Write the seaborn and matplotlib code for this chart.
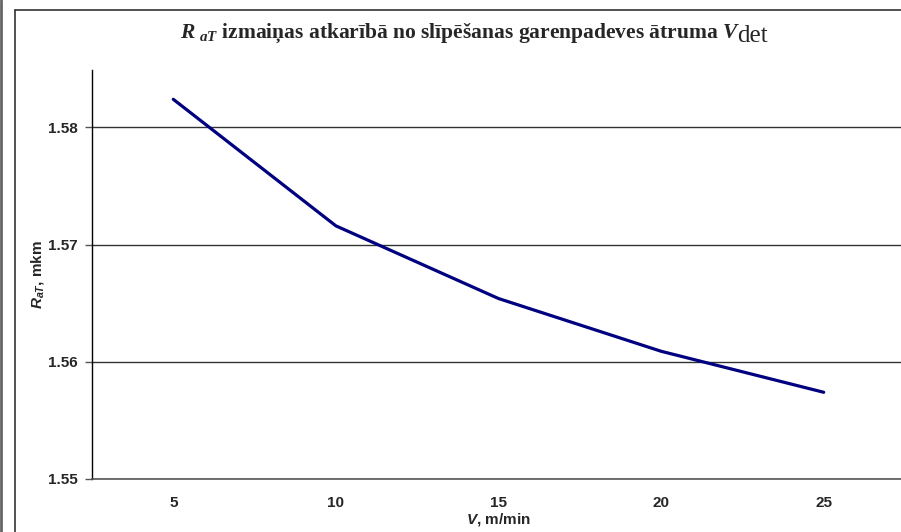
import matplotlib

matplotlib.use("Agg")
import matplotlib.pyplot as plt
import numpy as np
import pandas as pd
import seaborn as sns
from matplotlib.lines import Line2D

# Dati: slīpēšanas garenpadeves ātrums un R_aT
speeds = ["5", "10", "15", "20", "25"]
rat_values = [1.5824, 1.5716, 1.5654, 1.5609, 1.5574]
y_ticks = [1.55, 1.56, 1.57, 1.58]

df = pd.DataFrame({"V": speeds, "RaT": rat_values})

sns.set_style("white")
plt.rcParams["font.family"] = ["Liberation Sans", "DejaVu Sans"]
plt.rcParams["mathtext.fontset"] = "custom"
plt.rcParams["mathtext.it"] = "Liberation Sans:italic:bold"
plt.rcParams["mathtext.bfit"] = "Liberation Serif:italic:bold"
plt.rcParams["mathtext.rm"] = "Liberation Serif"
plt.rcParams["mathtext.bf"] = "Liberation Serif:bold"

fig = plt.figure(figsize=(9.01, 5.32), dpi=100)
ax = fig.add_axes([92 / 901, 1 - 479 / 532, 813 / 901, 409 / 532])

sns.pointplot(
    data=df,
    x="V",
    y="RaT",
    color="#000080",
    markers="",
    linestyles="-",
    errorbar=None,
    ax=ax,
)
for line in ax.lines:
    line.set_linewidth(2.3)

ax.set_xlim(-0.5, 4.5)
ax.set_ylim(1.55, 1.5849)
ax.set_yticks(y_ticks)
ax.set_yticklabels([f"{v:.2f}" for v in y_ticks], fontsize=11, fontweight="bold")
ax.set_xticks(range(len(speeds)))
ax.set_xticklabels(speeds, fontsize=11, fontweight="bold")
ax.set_xticks(np.arange(-0.5, len(speeds)), minor=True)
ax.tick_params(axis="x", which="major", length=0, pad=12)
ax.tick_params(axis="x", which="minor", length=5, width=1, color="#555555", direction="out")
ax.tick_params(axis="y", which="major", length=5, width=1, color="#555555", direction="out", left=True, pad=5)

# horizontālās režģa līnijas
ax.yaxis.grid(True, color="#333333", linewidth=1)
ax.xaxis.grid(False)

for side in ["top", "right"]:
    ax.spines[side].set_visible(False)
ax.spines["left"].set_color("black")
ax.spines["left"].set_linewidth(1)
ax.spines["bottom"].set_color("#555555")
ax.spines["bottom"].set_linewidth(1.2)

ax.set_xlabel(r"$\mathit{V}$, m/min", fontsize=11, fontweight="bold", labelpad=1)
ax.set_ylabel(r"$\mathit{R}_{\mathit{aT}}$, mkm", fontsize=11, fontweight="bold", labelpad=2)

# virsraksts: galvenā daļa + "det" lielākā, parastā fontā
title = fig.text(
    180 / 901,
    1 - 38 / 532,
    r"$\mathbfit{R}_{\ \mathbfit{aT}}$ izmaiņas atkarībā no slīpēšanas garenpadeves ātruma $\mathbfit{V}$",
    ha="left",
    va="baseline",
    fontsize=15.5,
    fontweight="bold",
    family=["Liberation Serif", "DejaVu Serif"],
)
fig.canvas.draw()
bb = title.get_window_extent()
fig.text(
    (bb.x1 - 3) / 901,
    1 - 42 / 532,
    "det",
    ha="left",
    va="baseline",
    fontsize=18,
    family=["Liberation Serif", "DejaVu Serif"],
)

# rāmis ap diagrammu
fig.add_artist(Line2D([15 / 901, 1.0], [1 - 10 / 532, 1 - 10 / 532], color="#333333", linewidth=1.2))
fig.add_artist(Line2D([15 / 901, 15 / 901], [0, 1 - 10 / 532], color="#333333", linewidth=1.2))
fig.add_artist(Line2D([1 / 901, 1 / 901], [0, 1], color="#666666", linewidth=2))

fig.savefig("out.png", dpi=100)
plt.close(fig)
